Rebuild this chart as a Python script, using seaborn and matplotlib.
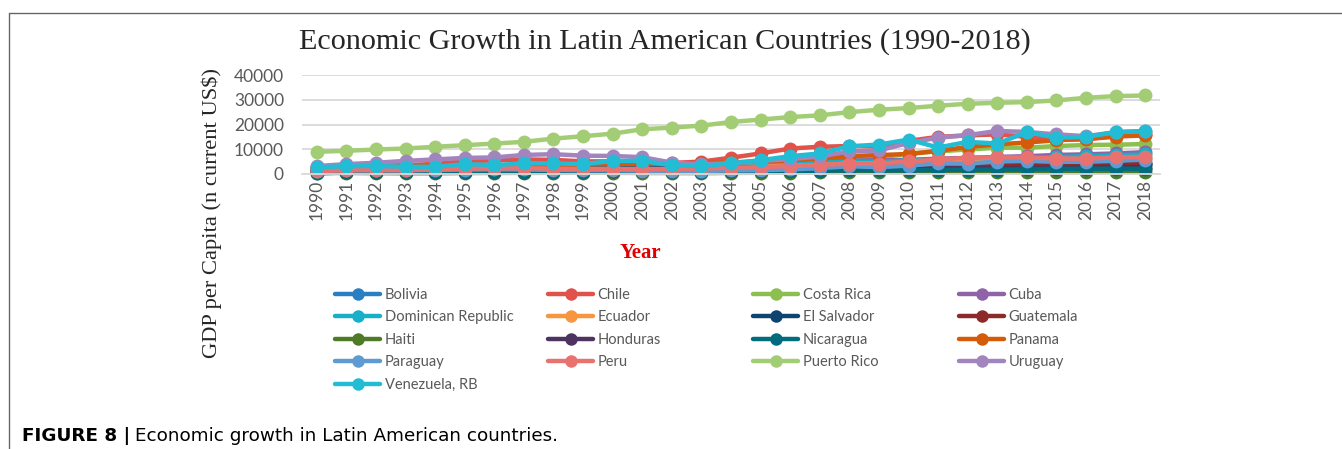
import matplotlib
matplotlib.use("Agg")
import matplotlib.pyplot as plt
from matplotlib.lines import Line2D
import pandas as pd
import seaborn as sns

# -----------------------------
# DATA (GDP per capita, current US$)
# -----------------------------
years = list(range(1990, 2019))

countries = ["Bolivia", "Chile", "Costa Rica", "Cuba", "Dominican Republic",
             "Ecuador", "El Salvador", "Guatemala", "Haiti", "Honduras",
             "Nicaragua", "Panama", "Paraguay", "Peru", "Puerto Rico",
             "Uruguay", "Venezuela, RB"]

bolivia = [720, 780, 810, 800, 810, 880, 940, 990, 1050, 990, 990, 950, 900, 910, 970,
           1040, 1230, 1380, 1720, 1760, 1980, 2380, 2650, 2960, 3120, 3070, 3060, 3350, 3550]
chile = [2500, 2810, 3400, 3630, 4050, 5170, 5480, 5880, 5700, 5100, 5100, 4640, 4470, 5000, 6600,
         8300, 10300, 11000, 11300, 11100, 13400, 15000, 15600, 16000, 15000, 13800, 14000, 15200, 16000]
costa_rica = [1990, 2030, 2340, 2560, 2780, 3280, 3310, 3510, 3660, 3840, 3960, 4060, 4150, 4240, 4470,
              4690, 5220, 6020, 6780, 6710, 8200, 9130, 9910, 10620, 10630, 11300, 11700, 11830, 12110]
cuba = [2690, 2320, 2180, 2240, 2300, 2390, 2500, 2560, 2620, 2700, 2750, 2830, 2900, 3000, 3200,
        3790, 4680, 5140, 5390, 5590, 5730, 6180, 6510, 6910, 7180, 7700, 7950, 8310, 8820]
dominican_republic = [1510, 1640, 1810, 1920, 2050, 2250, 2400, 2580, 2700, 2790, 2890, 3000, 3090, 2330, 2380,
                      3780, 3980, 4580, 4990, 4980, 5480, 5820, 6030, 6170, 6480, 6840, 7170, 7510, 7920]
ecuador = [1440, 1550, 1630, 1760, 2150, 2260, 2280, 2400, 2310, 1570, 1450, 1890, 2170, 2430, 2690,
           3000, 3330, 3570, 4250, 4230, 4630, 5190, 5660, 6030, 6370, 6100, 6020, 6210, 6300]
el_salvador = [1110, 1210, 1320, 1480, 1660, 1870, 1970, 2060, 2130, 2160, 2210, 2270, 2320, 2400, 2480,
               2620, 2800, 2970, 3160, 3130, 3210, 3460, 3550, 3600, 3680, 3780, 3880, 3980, 4060]
guatemala = [1020, 1210, 1290, 1350, 1440, 1550, 1590, 1730, 1720, 1580, 1650, 1720, 1860, 1910, 2040,
             2230, 2400, 2610, 2900, 2750, 2850, 3210, 3290, 3450, 3710, 3920, 4070, 4350, 4470]
haiti = [400, 430, 370, 330, 330, 420, 450, 460, 480, 490, 480, 440, 410, 380, 450,
         500, 540, 650, 690, 700, 690, 760, 790, 820, 830, 820, 760, 800, 870]
honduras = [840, 810, 860, 880, 820, 910, 900, 1000, 1070, 1080, 1200, 1250, 1260, 1300, 1380,
            1500, 1640, 1800, 1930, 1980, 2080, 2230, 2280, 2220, 2290, 2380, 2410, 2500, 2550]
nicaragua = [300, 620, 680, 680, 690, 740, 760, 770, 800, 820, 1020, 1050, 1010, 990, 1070,
             1160, 1230, 1330, 1490, 1450, 1480, 1640, 1750, 1790, 1920, 2030, 2080, 2160, 2020]
panama = [2460, 2620, 2840, 3030, 3140, 3170, 3240, 3420, 3620, 3800, 4060, 4100, 4240, 4400, 4740,
          5040, 5510, 6410, 7230, 7650, 8080, 9370, 10920, 11960, 12750, 13600, 14270, 15150, 15580]
paraguay = [1340, 1510, 1490, 1500, 1620, 1800, 1890, 1850, 1620, 1520, 1490, 1380, 1110, 1200, 1440,
            1550, 1830, 2370, 3130, 2760, 3390, 4260, 4190, 5050, 5280, 4930, 4940, 5340, 5800]
peru = [1200, 1550, 1590, 1530, 1900, 2230, 2270, 2350, 2170, 2010, 2040, 2020, 2090, 2230, 2490,
        2760, 3180, 3580, 4200, 4200, 5080, 5870, 6530, 6760, 6670, 6230, 6200, 6710, 6950]
puerto_rico = [8970, 9370, 9900, 10300, 11000, 11650, 12300, 13000, 14300, 15260, 16300, 18070, 18740, 19540, 21000,
               22000, 23000, 23700, 25000, 25970, 26640, 27580, 28380, 28780, 29050, 29720, 30790, 31460, 31730]
uruguay = [3200, 4000, 4550, 5300, 5900, 6500, 6700, 7700, 8000, 7400, 7300, 6800, 4600, 3900, 4300,
           5300, 6000, 7100, 9100, 9500, 12500, 14700, 15700, 17400, 17000, 16000, 15300, 16900, 17300]
venezuela = [2700, 3200, 3200, 2950, 2900, 4000, 3600, 4300, 4300, 4000, 5300, 5300, 3500, 3200, 4300,
             5600, 7200, 8300, 11200, 11900, 13900, 10700, 13000, 12300, 16900, 14700, 15000, 16900, 17400]

colors = ["#2a7fc2", "#e0524a", "#8cbf4f", "#8e63a8", "#18b0c9",
          "#f7963e", "#0e4470", "#8c2a2a", "#4f7a28", "#4d3460",
          "#006c7e", "#d55a0a", "#5e9bd2", "#e8726f", "#a3cd75",
          "#a285be", "#22bdd5"]

series = [bolivia, chile, costa_rica, cuba, dominican_republic, ecuador, el_salvador,
          guatemala, haiti, honduras, nicaragua, panama, paraguay, peru, puerto_rico,
          uruguay, venezuela]

rows = []
for name, vals in zip(countries, series):
    for yr, v in zip(years, vals):
        rows.append({"Year": yr, "GDP": v, "Country": name})
df = pd.DataFrame(rows)

# -----------------------------
# PLOT
# -----------------------------
sns.set_style("white")
plt.rcParams["font.family"] = ["Lato", "DejaVu Sans"]
TXT = "#595959"

fig = plt.figure(figsize=(13.42, 4.49), dpi=100)
ax = fig.add_axes([302 / 1342, 1 - 174 / 449, 858 / 1342, 99 / 449])

sns.lineplot(data=df, x="Year", y="GDP", hue="Country", hue_order=countries,
             palette=dict(zip(countries, colors)), marker="o", markersize=10,
             markeredgewidth=0, linewidth=3.2, errorbar=None, legend=False,
             clip_on=False, ax=ax)

ax.set_xlim(1989.5, 2018.5)
ax.set_ylim(0, 40000)
ax.set_xticks(years)
ax.set_xticklabels([str(y) for y in years], rotation=90, fontsize=12.5, color=TXT)
ax.set_yticks([0, 10000, 20000, 30000, 40000])
ax.set_yticklabels(["0", "10000", "20000", "30000", "40000"], fontsize=12.5, color=TXT)
ax.tick_params(axis="y", length=0, pad=13)
ax.tick_params(axis="x", length=0, pad=4)
ax.yaxis.grid(True, color="#d9d9d9", linewidth=1.3)
ax.set_axisbelow(True)
for s in ["top", "right", "left"]:
    ax.spines[s].set_visible(False)
ax.spines["bottom"].set_color("#d9d9d9")
ax.spines["bottom"].set_linewidth(1.3)
ax.set_xlabel("")
ax.set_ylabel("")

fig.text(665 / 1342, 1 - 42 / 449, "Economic Growth in Latin American Countries (1990-2018)",
         ha="center", va="center", fontsize=21.7, family="Liberation Serif")
fig.text(212 / 1342, 1 - 213 / 449, "GDP per Capita (n current US$)", rotation=90,
         ha="center", va="center", fontsize=16.2, family="Liberation Serif")
fig.text(640 / 1342, 1 - 253 / 449, "Year", ha="center", va="center", fontsize=15,
         family="Liberation Serif", fontweight="bold", color="#e00000")

# legend: Excel fills rows first, 4 columns of equal width
handles = [Line2D([], [], color=c, linewidth=3.2, marker="o", markersize=9,
                  markeredgewidth=0) for c in colors]
col_x = [335, 548, 753, 959]
for i, x0 in enumerate(col_x):
    idx = list(range(i, len(countries), 4))
    leg = fig.legend([handles[j] for j in idx], [countries[j] for j in idx],
                     loc="upper left", bbox_to_anchor=(x0 / 1342, 1 - 288 / 449),
                     frameon=False, fontsize=10.5, handlelength=3.1, handletextpad=0.3,
                     labelspacing=0.58, borderpad=0, borderaxespad=0)
    for t in leg.get_texts():
        t.set_color(TXT)

# frame lines and caption
fig.add_artist(Line2D([9 / 1342, 1], [1 - 13 / 449, 1 - 13 / 449], color="#666666", linewidth=1))
fig.add_artist(Line2D([9 / 1342, 9 / 1342], [0, 1 - 13 / 449], color="#666666", linewidth=1))
cap = fig.text(22 / 1342, 1 - 436 / 449, "FIGURE 8 |", ha="left", va="center", fontsize=13.2,
               family="DejaVu Sans", fontweight="bold", color="black")
fig.canvas.draw()
bb = cap.get_window_extent()
fig.text(bb.x1 / 1342 + 5 / 1342, 1 - 436 / 449, "Economic growth in Latin American countries.",
         ha="left", va="center", fontsize=13.2, family="DejaVu Sans", color="black")

fig.savefig("out.png", dpi=100)
